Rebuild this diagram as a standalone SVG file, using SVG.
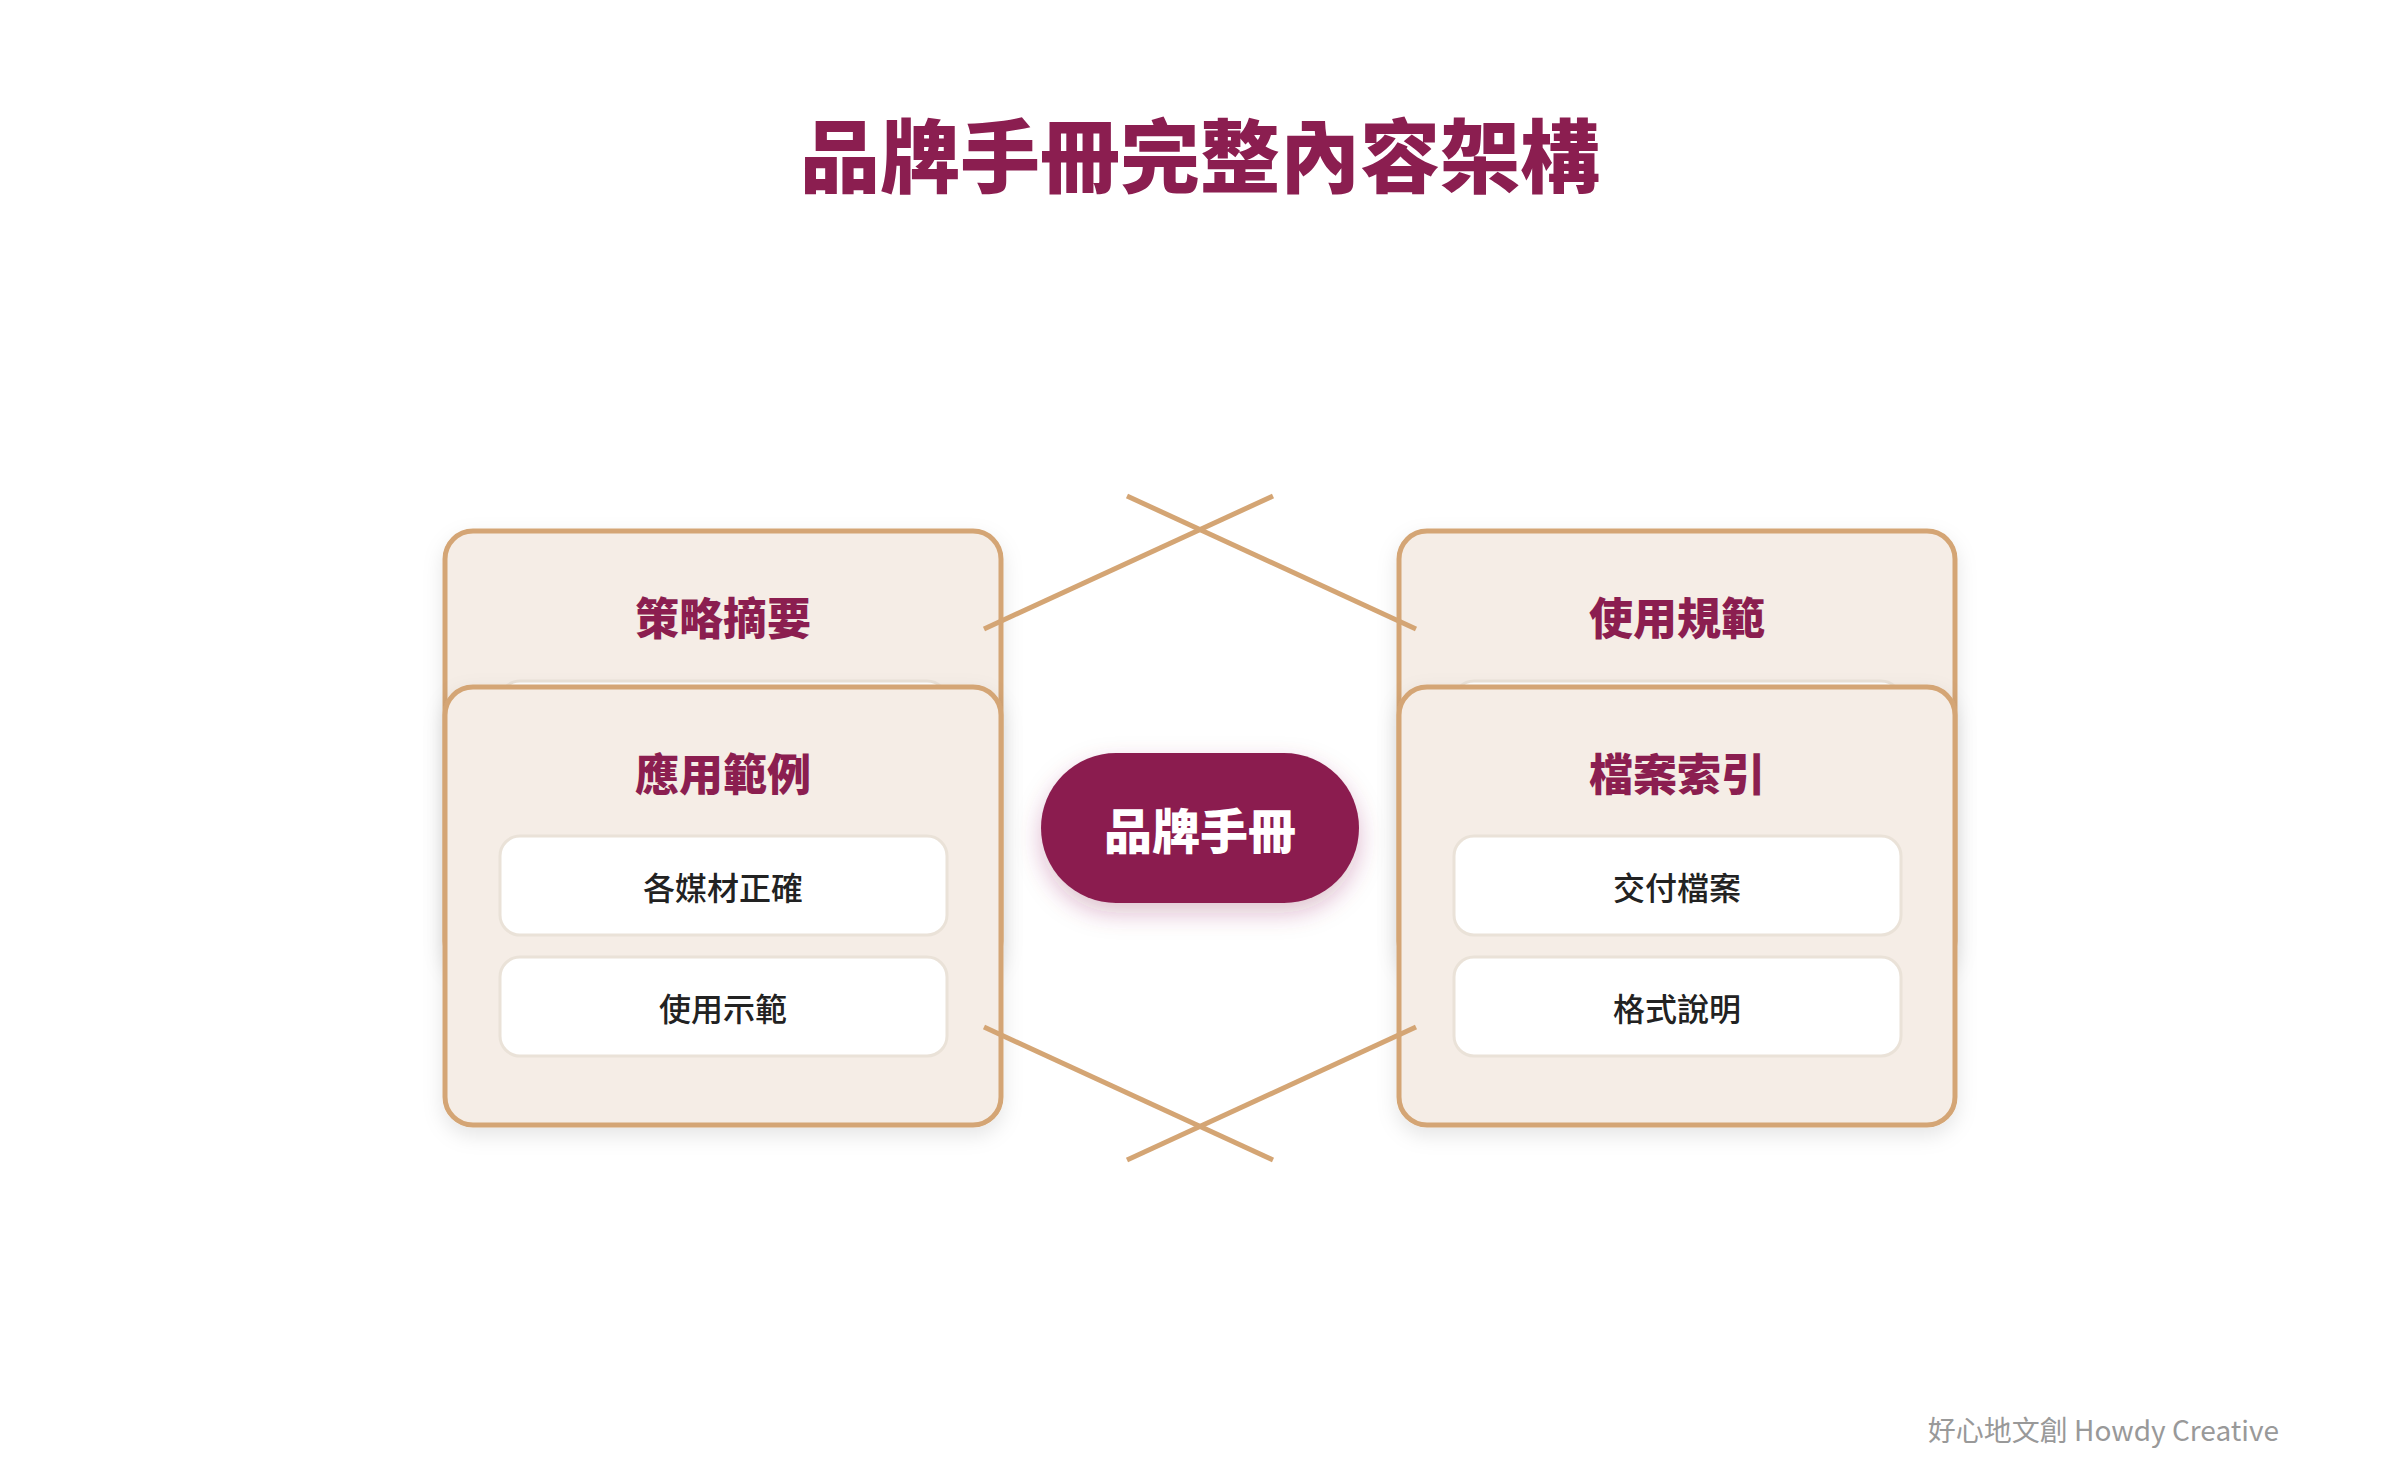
<svg xmlns="http://www.w3.org/2000/svg" width="2400" height="1469" viewBox="0 0 2400 1469">
<defs>
<filter id="cardShadow" x="-10%" y="-10%" width="120%" height="130%">
<feDropShadow dx="0" dy="8" stdDeviation="10" flood-color="#000" flood-opacity="0.10"/>
</filter>
<filter id="pillShadow" x="-20%" y="-30%" width="140%" height="170%">
<feDropShadow dx="0" dy="10" stdDeviation="12" flood-color="#8B1E50" flood-opacity="0.28"/>
</filter>
<style>
.card{fill:#F5EDE6;stroke:#D4A574;stroke-width:5;filter:url(#cardShadow);}
.item{fill:#FFFFFF;stroke:#EAE2D8;stroke-width:3;}
.head{font-family:"Noto Sans CJK TC","Noto Sans CJK SC",sans-serif;font-weight:900;font-size:44px;fill:#8B1E50;text-anchor:middle;}
.itxt{font-family:"Noto Sans CJK TC","Noto Sans CJK SC",sans-serif;font-weight:500;font-size:32px;fill:#222222;text-anchor:middle;}
.link{stroke:#D4A574;stroke-width:5;fill:none;}
</style>
</defs>
<rect width="2400" height="1469" fill="#FFFFFF"/>
<text x="1200" y="186" font-family="'Noto Sans CJK TC','Noto Sans CJK SC',sans-serif" font-weight="900" font-size="80" fill="#8B1E50" text-anchor="middle">品牌手冊完整內容架構</text>

<g id="card-strategy">
<rect class="card" x="445" y="531" width="556" height="438" rx="28"/>
<text class="head" x="723" y="635">策略摘要</text>
<rect class="item" x="500" y="681" width="447" height="99" rx="20"/>
</g>
<g id="card-usage">
<rect class="card" x="1399" y="531" width="556" height="438" rx="28"/>
<text class="head" x="1677" y="635">使用規範</text>
<rect class="item" x="1454" y="681" width="447" height="99" rx="20"/>
</g>
<g id="card-examples">
<rect class="card" x="445" y="687" width="556" height="438" rx="28"/>
<text class="head" x="723" y="791">應用範例</text>
<g id="item-media"><rect class="item" x="500" y="836" width="447" height="99" rx="20"/><text class="itxt" x="723" y="900">各媒材正確</text></g>
<g id="item-demo"><rect class="item" x="500" y="957" width="447" height="99" rx="20"/><text class="itxt" x="723" y="1021">使用示範</text></g>
</g>
<g id="card-files">
<rect class="card" x="1399" y="687" width="556" height="438" rx="28"/>
<text class="head" x="1677" y="791">檔案索引</text>
<g id="item-deliver"><rect class="item" x="1454" y="836" width="447" height="99" rx="20"/><text class="itxt" x="1677" y="900">交付檔案</text></g>
<g id="item-format"><rect class="item" x="1454" y="957" width="447" height="99" rx="20"/><text class="itxt" x="1677" y="1021">格式說明</text></g>
</g>

<g id="connectors">
<line class="link" x1="984" y1="629" x2="1273" y2="496"/>
<line class="link" x1="1127" y1="496" x2="1416" y2="629"/>
<line class="link" x1="984" y1="1027" x2="1273" y2="1160"/>
<line class="link" x1="1127" y1="1160" x2="1416" y2="1027"/>
</g>

<g id="center">
<rect x="1041" y="753" width="318" height="150" rx="75" fill="#8B1E50" filter="url(#pillShadow)"/>
<text x="1200" y="849" font-family="'Noto Sans CJK TC','Noto Sans CJK SC',sans-serif" font-weight="900" font-size="48" fill="#FFFFFF" text-anchor="middle">品牌手冊</text>
</g>

<text x="2279" y="1441" font-family="'Noto Sans CJK TC','Noto Sans',sans-serif" font-size="28" fill="#999999" text-anchor="end">好心地文創 Howdy Creative</text>
</svg>
